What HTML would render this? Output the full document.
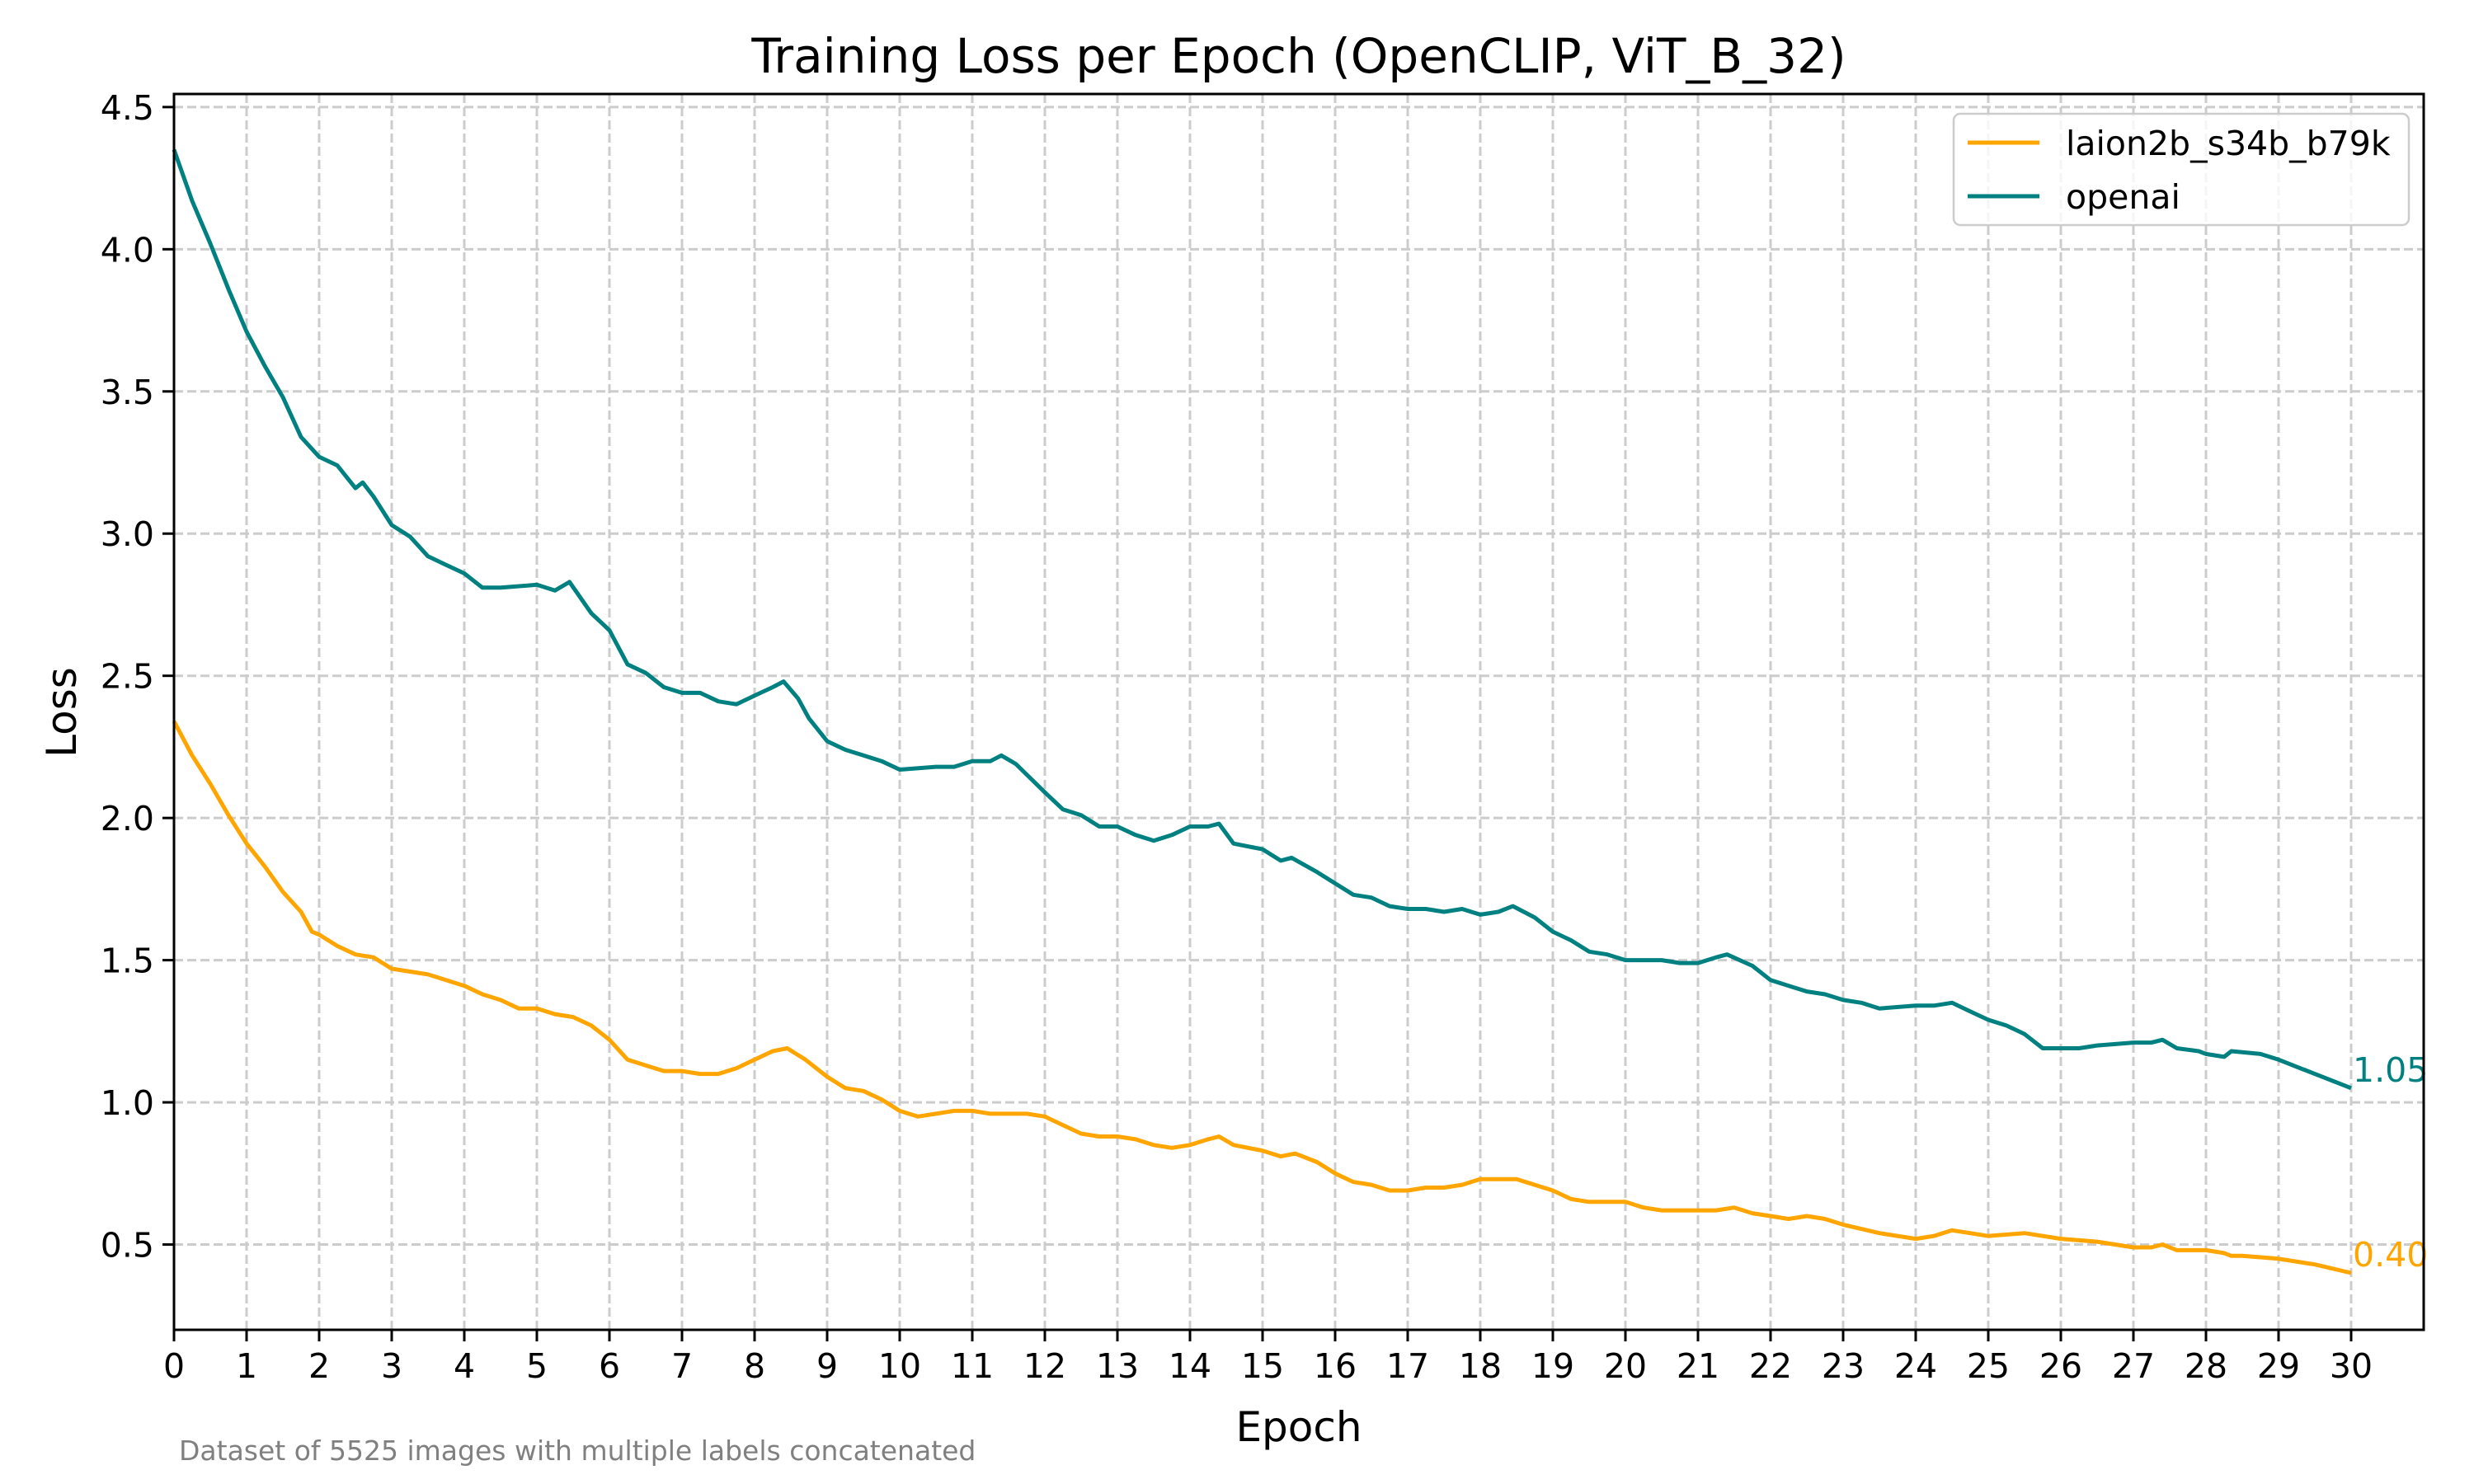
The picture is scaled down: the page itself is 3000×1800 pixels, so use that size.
<!DOCTYPE html>
<html><head><meta charset="utf-8"><style>
html,body{margin:0;padding:0;background:#fff;}
svg{display:block;font-family:"DejaVu Sans","Liberation Sans",sans-serif;}
</style></head><body>
<svg id="chart" width="3000" height="1800" viewBox="0 0 3000 1800" xmlns="http://www.w3.org/2000/svg">
<rect width="3000" height="1800" fill="#fff"/>
<g id="grid"></g>
<g id="series"></g>
<g id="axes"></g>
<text x="1575" y="88" font-size="58" text-anchor="middle">Training Loss per Epoch (OpenCLIP, ViT_B_32)</text>
<text x="1575" y="1748" font-size="50" text-anchor="middle">Epoch</text>
<text x="0" y="0" font-size="50" text-anchor="middle" transform="translate(92,864) rotate(-90)">Loss</text>
<text x="217" y="1771" font-size="33" fill="#808080">Dataset of 5525 images with multiple labels concatenated</text>
<g>
<rect x="2369" y="138" width="552" height="135" rx="8" fill="#fff" fill-opacity="0.8" stroke="#ccc" stroke-width="2.5"/>
<line x1="2386" y1="173" x2="2473" y2="173" stroke="#FFA500" stroke-width="5"/>
<text x="2505" y="188" font-size="41">laion2b_s34b_b79k</text>
<line x1="2386" y1="238" x2="2473" y2="238" stroke="#008080" stroke-width="5"/>
<text x="2505" y="253" font-size="41">openai</text>
</g>
</svg>
<script>
const openaiEpochs=[0,0.25,0.5,0.75,1,1.25,1.5,1.75,2,2.25,2.5,2.6,2.75,3,3.25,3.5,3.75,4,4.25,4.5,5,5.25,5.45,5.75,6,6.25,6.5,6.75,7,7.25,7.5,7.75,8,8.25,8.4,8.6,8.75,9,9.25,9.5,9.75,10,10.5,10.75,11,11.25,11.4,11.6,11.8,12,12.25,12.5,12.75,13,13.25,13.5,13.75,14,14.25,14.4,14.6,15,15.25,15.4,15.75,16,16.25,16.5,16.75,17,17.25,17.5,17.75,18,18.25,18.45,18.75,19,19.25,19.5,19.75,20,20.25,20.5,20.75,21,21.25,21.4,21.75,22,22.25,22.5,22.75,23,23.25,23.5,24,24.25,24.5,24.75,25,25.25,25.5,25.75,26,26.25,26.5,27,27.25,27.4,27.6,27.9,28,28.25,28.35,28.75,29,29.5,30];
const openaiLoss=[4.35,4.17,4.02,3.86,3.71,3.59,3.48,3.34,3.27,3.24,3.16,3.18,3.13,3.03,2.99,2.92,2.89,2.86,2.81,2.81,2.82,2.80,2.83,2.72,2.66,2.54,2.51,2.46,2.44,2.44,2.41,2.40,2.43,2.46,2.48,2.42,2.35,2.27,2.24,2.22,2.20,2.17,2.18,2.18,2.20,2.20,2.22,2.19,2.14,2.09,2.03,2.01,1.97,1.97,1.94,1.92,1.94,1.97,1.97,1.98,1.91,1.89,1.85,1.86,1.81,1.77,1.73,1.72,1.69,1.68,1.68,1.67,1.68,1.66,1.67,1.69,1.65,1.60,1.57,1.53,1.52,1.50,1.50,1.50,1.49,1.49,1.51,1.52,1.48,1.43,1.41,1.39,1.38,1.36,1.35,1.33,1.34,1.34,1.35,1.32,1.29,1.27,1.24,1.19,1.19,1.19,1.20,1.21,1.21,1.22,1.19,1.18,1.17,1.16,1.18,1.17,1.15,1.10,1.05];
const laionEpochs=[0,0.25,0.5,0.75,1,1.25,1.5,1.75,1.9,2,2.25,2.5,2.75,3,3.5,4,4.25,4.5,4.75,5,5.25,5.5,5.75,6,6.25,6.5,6.75,7,7.25,7.5,7.75,8,8.25,8.45,8.7,9,9.25,9.5,9.75,10,10.25,10.5,10.75,11,11.25,11.5,11.75,12,12.25,12.5,12.75,13,13.25,13.5,13.75,14,14.25,14.4,14.6,15,15.25,15.45,15.75,16,16.25,16.5,16.75,17,17.25,17.5,17.75,18,18.5,18.75,19,19.25,19.5,20,20.25,20.5,21,21.25,21.5,21.75,22,22.25,22.5,22.75,23,23.5,24,24.25,24.5,24.75,25,25.5,26,26.5,27,27.25,27.4,27.6,28,28.25,28.35,28.5,29,29.5,30];
const laionLoss=[2.34,2.22,2.12,2.01,1.91,1.83,1.74,1.67,1.60,1.59,1.55,1.52,1.51,1.47,1.45,1.41,1.38,1.36,1.33,1.33,1.31,1.30,1.27,1.22,1.15,1.13,1.11,1.11,1.10,1.10,1.12,1.15,1.18,1.19,1.15,1.09,1.05,1.04,1.01,0.97,0.95,0.96,0.97,0.97,0.96,0.96,0.96,0.95,0.92,0.89,0.88,0.88,0.87,0.85,0.84,0.85,0.87,0.88,0.85,0.83,0.81,0.82,0.79,0.75,0.72,0.71,0.69,0.69,0.70,0.70,0.71,0.73,0.73,0.71,0.69,0.66,0.65,0.65,0.63,0.62,0.62,0.62,0.63,0.61,0.60,0.59,0.60,0.59,0.57,0.54,0.52,0.53,0.55,0.54,0.53,0.54,0.52,0.51,0.49,0.49,0.50,0.48,0.48,0.47,0.46,0.46,0.45,0.43,0.40];
const xTicks=[0,1,2,3,4,5,6,7,8,9,10,11,12,13,14,15,16,17,18,19,20,21,22,23,24,25,26,27,28,29,30];
const yTicks=[0.5,1.0,1.5,2.0,2.5,3.0,3.5,4.0,4.5];
const yTickLabels=["0.5","1.0","1.5","2.0","2.5","3.0","3.5","4.0","4.5"];

const L=211,R=2939,T=114,B=1613,XMIN=0,XMAX=31,YMIN=0.2,YMAX=4.546;
const xs=v=>L+(v-XMIN)/(XMAX-XMIN)*(R-L);
const ys=v=>B-(v-YMIN)/(YMAX-YMIN)*(B-T);
const NS="http://www.w3.org/2000/svg";
function mk(tag,attrs,parent){const e=document.createElementNS(NS,tag);for(const k in attrs)e.setAttribute(k,attrs[k]);parent.appendChild(e);return e;}
const grid=document.getElementById('grid'),axes=document.getElementById('axes'),series=document.getElementById('series');
xTicks.forEach(t=>{
  const g=mk('line',{x1:xs(t),x2:xs(t),y1:T,y2:B,stroke:'#cccccc','stroke-width':3,'stroke-dasharray':'11,5'},grid);
  
  
  const tk=mk('line',{x1:xs(t),x2:xs(t),y1:B,y2:B+14,stroke:'#000','stroke-width':3},axes);
  
  
  const lb=mk('text',{x:xs(t),y:B+58,'font-size':41,'text-anchor':'middle'},axes);
  lb.textContent=String(t);
  
  
});
yTicks.forEach((t,i)=>{
  const g=mk('line',{x1:L,x2:R,y1:ys(t),y2:ys(t),stroke:'#cccccc','stroke-width':3,'stroke-dasharray':'11,5'},grid);
  
  
  const tk=mk('line',{x1:L-14,x2:L,y1:ys(t),y2:ys(t),stroke:'#000','stroke-width':3},axes);
  
  
  const lb=mk('text',{x:L-24,y:ys(t)+15,'font-size':41,'text-anchor':'end'},axes);
  lb.textContent=yTickLabels[i];
  
  
});
const frame=mk('rect',{x:L,y:T,width:R-L,height:B-T,fill:'none',stroke:'#000','stroke-width':3},axes);


function drawLine(ex,ey,color,name){
  const d=ex.map((e,i)=>(i?'L':'M')+xs(e).toFixed(1)+','+ys(ey[i]).toFixed(1)).join(' ');
  const p=mk('path',{d:d,fill:'none',stroke:color,'stroke-width':5,'stroke-linejoin':'round'},series);
  
  
  const n=ex.length-1;
  const lb=mk('text',{x:xs(ex[n])+2,y:ys(ey[n])-8,'font-size':41,fill:color},series);
  lb.textContent=ey[n].toFixed(2);
  
  
}
drawLine(laionEpochs,laionLoss,'#FFA500','laion-line');
drawLine(openaiEpochs,openaiLoss,'#008080','openai-line');
</script>
</body></html>
